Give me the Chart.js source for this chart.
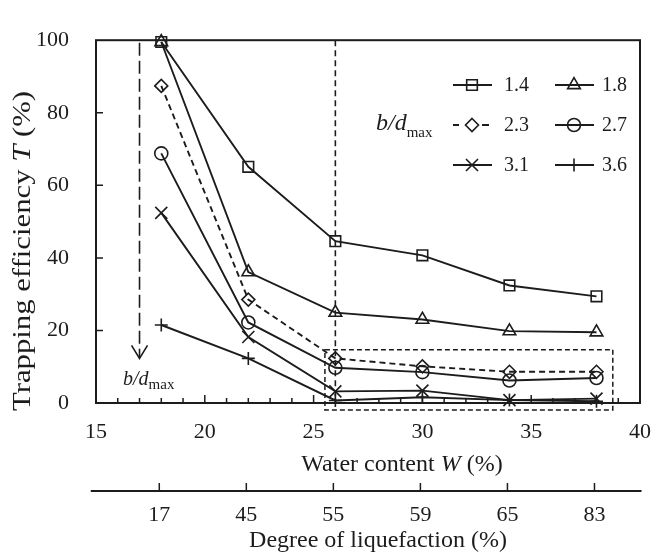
<!DOCTYPE html>
<html><head><meta charset="utf-8">
<script src="https://cdn.jsdelivr.net/npm/chart.js@4.4.1/dist/chart.umd.min.js"></script>
<style>html,body{margin:0;padding:0;background:#fff;}</style>
</head><body>
<canvas id="c" width="667" height="557"></canvas>
<script>
// ---- data ----
const waterContent = [18, 22, 26, 30, 34, 38];
const liquefactionLabels = ['17', '45', '55', '59', '65', '83'];
const ratioLabels = ['1.4', '1.8', '2.3', '2.7', '3.1', '3.6'];
const t14 = [99.5, 65.1, 44.6, 40.7, 32.4, 29.4];
const t18 = [99.5, 36.1, 24.9, 23.0, 19.8, 19.5];
const t23 = [87.4, 28.5, 12.3, 10.1, 8.6, 8.6];
const t27 = [68.8, 22.2, 9.7, 8.5, 6.2, 6.9];
const t31 = [52.4, 18.2, 3.2, 3.4, 0.8, 1.2];
const t36 = [21.5, 12.3, 0.7, 1.6, 0.8, 0.5];
const xTicks = [15, 20, 25, 30, 35, 40];
const yTicks = [0, 20, 40, 60, 80, 100];

// ---- styles ----
const INK = '#1c1c1c';
const SERIF = "'Liberation Serif', 'Times New Roman', serif";
const seriesValues = [t14, t18, t23, t27, t31, t36];
const markerStyles = ['rect', 'triangle', 'rectRot', 'circle', 'crossRot', 'cross'];
const markerRadius = [7.5, 7.3, 6.5, 6.5, 8.5, 6.5];
const lineDashes = [[], [], [6, 4], [], [], []];

function drawMarker(ctx, style, x, y, r) {
  ctx.beginPath();
  if (style === 'rect') { const h = r * Math.SQRT1_2; ctx.rect(x - h, y - h, 2 * h, 2 * h); }
  else if (style === 'triangle') { ctx.moveTo(x, y - r); ctx.lineTo(x + 0.866 * r, y + 0.5 * r); ctx.lineTo(x - 0.866 * r, y + 0.5 * r); ctx.closePath(); }
  else if (style === 'rectRot') { ctx.moveTo(x, y - r); ctx.lineTo(x + r, y); ctx.lineTo(x, y + r); ctx.lineTo(x - r, y); ctx.closePath(); }
  else if (style === 'circle') { ctx.arc(x, y, r, 0, Math.PI * 2); }
  else if (style === 'crossRot') { const h = r * Math.SQRT1_2; ctx.moveTo(x - h, y - h); ctx.lineTo(x + h, y + h); ctx.moveTo(x + h, y - h); ctx.lineTo(x - h, y + h); }
  else { ctx.moveTo(x - r, y); ctx.lineTo(x + r, y); ctx.moveTo(x, y - r); ctx.lineTo(x, y + r); }
  ctx.stroke();
}

function drawRich(ctx, parts, x, y) {
  let cx = x;
  parts.forEach(p => {
    ctx.font = (p.italic ? 'italic ' : '') + p.size + 'px ' + SERIF;
    ctx.fillText(p.t, cx, y + (p.dy || 0));
    cx += ctx.measureText(p.t).width;
  });
  return cx - x;
}
function richWidth(ctx, parts) {
  let w = 0;
  parts.forEach(p => { ctx.font = (p.italic ? 'italic ' : '') + p.size + 'px ' + SERIF; w += ctx.measureText(p.t).width; });
  return w;
}

const decor = {
  id: 'decor',
  beforeDatasetsDraw(chart) {
    const { ctx } = chart; const xs = chart.scales.x, ys = chart.scales.y;
    ctx.save();
    ctx.strokeStyle = INK; ctx.lineWidth = 1.6;
    ctx.setLineDash([6, 4]);
    ctx.beginPath(); ctx.moveTo(xs.getPixelForValue(26), ys.getPixelForValue(100)); ctx.lineTo(xs.getPixelForValue(26), ys.getPixelForValue(0)); ctx.stroke();
    const ax = xs.getPixelForValue(17);
    const tipY = ys.getPixelForValue(12.3);
    ctx.setLineDash([13, 5]);
    ctx.beginPath(); ctx.moveTo(ax, ys.getPixelForValue(99.3)); ctx.lineTo(ax, tipY - 1); ctx.stroke();
    ctx.setLineDash([]);
    ctx.beginPath(); ctx.moveTo(ax - 8, tipY - 13); ctx.lineTo(ax, tipY); ctx.lineTo(ax + 8, tipY - 13); ctx.stroke();
    ctx.restore();
  },
  afterDraw(chart) {
    const { ctx, chartArea: a } = chart; const xs = chart.scales.x, ys = chart.scales.y;
    ctx.save();
    ctx.strokeStyle = INK; ctx.fillStyle = INK;
    ctx.lineWidth = 2; ctx.setLineDash([]);
    ctx.strokeRect(a.left, a.top, a.right - a.left, a.bottom - a.top);
    ctx.lineWidth = 1.5;
    ctx.beginPath();
    for (let v = 16; v < 40; v++) {
      const px = xs.getPixelForValue(v); const len = v % 5 === 0 ? 8 : 5;
      ctx.moveTo(px, a.bottom); ctx.lineTo(px, a.bottom - len);
    }
    yTicks.slice(1, -1).forEach(v => { const py = ys.getPixelForValue(v); ctx.moveTo(a.left, py); ctx.lineTo(a.left + 7, py); });
    ctx.stroke();
    // dashed box
    ctx.setLineDash([5, 3]); ctx.lineWidth = 1.5;
    const bx0 = xs.getPixelForValue(25.52), bx1 = xs.getPixelForValue(38.75);
    const by0 = ys.getPixelForValue(14.7), by1 = ys.getPixelForValue(-1.9);
    ctx.strokeRect(bx0, by0, bx1 - bx0, by1 - by0);
    ctx.setLineDash([]);
    // arrow label
    ctx.textBaseline = 'alphabetic'; ctx.textAlign = 'left';
    drawRich(ctx, [{ t: 'b/d', italic: true, size: 20 }, { t: 'max', size: 15, dy: 4 }], 123, 385);
    // x-axis title
    ctx.textBaseline = 'middle';
    const xt = [{ t: 'Water content ', size: 24 }, { t: 'W', italic: true, size: 24 }, { t: ' (%)', size: 24 }];
    drawRich(ctx, xt, 402 - richWidth(ctx, xt) / 2, 465);
    // secondary axis
    const sy = 491;
    ctx.lineWidth = 2;
    ctx.beginPath(); ctx.moveTo(xs.getPixelForValue(14.76), sy); ctx.lineTo(xs.getPixelForValue(40.07), sy); ctx.stroke();
    ctx.lineWidth = 1.5;
    ctx.beginPath();
    waterContent.forEach(v => { const px = xs.getPixelForValue(v) - 2; ctx.moveTo(px, sy); ctx.lineTo(px, sy - 8); });
    ctx.stroke();
    ctx.font = '22px ' + SERIF; ctx.textAlign = 'center';
    waterContent.forEach((v, i) => ctx.fillText(liquefactionLabels[i], xs.getPixelForValue(v) - 2, 515));
    ctx.font = '24px ' + SERIF;
    ctx.fillText('Degree of liquefaction (%)', 378, 541);
    // y-axis title
    ctx.save();
    ctx.translate(23, 251); ctx.rotate(-Math.PI / 2);
    const yt = [{ t: 'Trapping efficiency ', size: 26 }, { t: 'T', italic: true, size: 26 }, { t: ' (%)', size: 26 }];
    const yw = richWidth(ctx, yt);
    ctx.scale(320 / yw, 1);
    ctx.textAlign = 'left';
    drawRich(ctx, yt, -yw / 2, 0);
    ctx.restore();
    // legend
    const cols = [{ l0: 453, l1: 492, mx: 472, tx: 504 }, { l0: 555, l1: 594, mx: 574, tx: 602 }];
    const rows = [85, 125, 165];
    ctx.textAlign = 'left'; ctx.textBaseline = 'middle';
    ratioLabels.forEach((lab, i) => {
      const c = cols[i % 2], ry = rows[Math.floor(i / 2)];
      ctx.lineWidth = 1.9;
      ctx.beginPath();
      if (lineDashes[i].length) {
        ctx.moveTo(c.l0, ry); ctx.lineTo(c.l0 + 6, ry);
        ctx.moveTo(c.l1 - 10, ry); ctx.lineTo(c.l1 - 3, ry);
      } else { ctx.moveTo(c.l0, ry); ctx.lineTo(c.l1, ry); }
      ctx.stroke();
      ctx.lineWidth = 1.6;
      drawMarker(ctx, markerStyles[i], c.mx, ry, markerRadius[i]);
      ctx.font = '20px ' + SERIF;
      ctx.fillText(lab, c.tx, ry + 1);
    });
    ctx.textBaseline = 'alphabetic';
    drawRich(ctx, [{ t: 'b/d', italic: true, size: 24 }, { t: 'max', size: 15, dy: 7 }], 376, 130);
    ctx.restore();
  }
};

const datasets = ratioLabels.map((lab, i) => ({
  label: lab,
  data: waterContent.map((x, j) => ({ x: x, y: seriesValues[i][j] })),
  borderColor: INK, borderWidth: 1.9, borderDash: lineDashes[i],
  pointStyle: markerStyles[i], pointRadius: markerRadius[i],
  pointBorderColor: INK, pointBackgroundColor: 'rgba(0,0,0,0)', pointBorderWidth: 1.6,
  tension: 0, fill: false, clip: false
}));

const tickFont = { family: SERIF, size: 22 };
new Chart(document.getElementById('c'), {
  type: 'line',
  data: { datasets },
  options: {
    responsive: false, animation: false, devicePixelRatio: 1,
    layout: { padding: { top: 21, right: 12, left: 0, bottom: 0 } },
    plugins: { legend: { display: false }, tooltip: { enabled: false } },
    scales: {
      x: {
        type: 'linear', min: 15, max: 40,
        afterBuildTicks: s => { s.ticks = xTicks.map(v => ({ value: v })); },
        afterFit: s => { s.height = 154; },
        grid: { display: false, drawTicks: false }, border: { display: false },
        ticks: { font: tickFont, color: INK, padding: 16, maxRotation: 0, autoSkip: false }
      },
      y: {
        type: 'linear', min: 0, max: 100,
        afterBuildTicks: s => { s.ticks = yTicks.map(v => ({ value: v })); },
        afterFit: s => { s.width = 96; },
        grid: { display: false, drawTicks: false }, border: { display: false },
        ticks: { font: tickFont, color: INK, padding: 27, autoSkip: false }
      }
    }
  },
  plugins: [decor]
});
</script>
</body></html>
